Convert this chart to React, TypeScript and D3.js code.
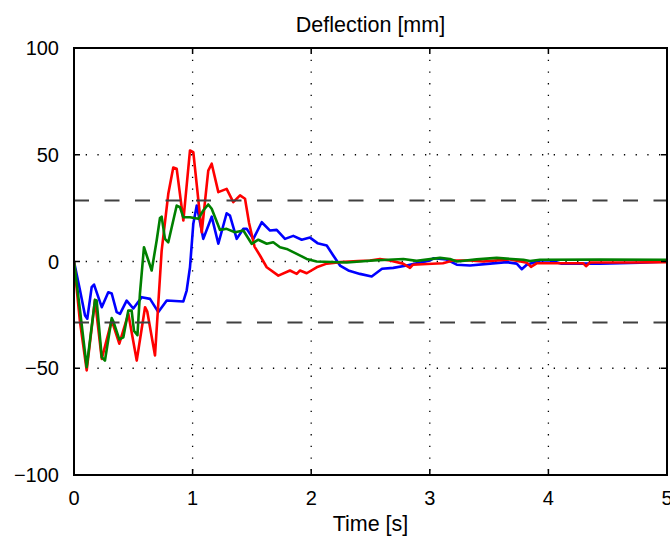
import React from "react";
import * as d3 from "d3";

const title = "Deflection [mm]";
const xLabel = "Time [s]";
const xTicks = [0, 1, 2, 3, 4, 5];
const yTicks = [-100, -50, 0, 50, 100];
const limitLevels = [28.6, -28.6];

const redSeries: [number, number][] = [
  [0, 0], [0.05, -28], [0.107, -51], [0.177, -18], [0.234, -45.6], [0.318, -27.6],
  [0.382, -38.5], [0.458, -24.5], [0.529, -46.4], [0.599, -21.4], [0.618, -23.5],
  [0.683, -44], [0.739, 5], [0.795, 31.7], [0.837, 44], [0.866, 43.4], [0.922, 19.2],
  [0.978, 52], [1.006, 51.2], [1.077, 13.7], [1.132, 42.6], [1.161, 45.8], [1.217, 32.5],
  [1.287, 34], [1.343, 27.8], [1.4, 31], [1.442, 29.4], [1.476, 18], [1.522, 7],
  [1.568, 2.8], [1.625, -2.7], [1.723, -6.6], [1.821, -4.2], [1.878, -5.8], [1.906, -4.2],
  [1.962, -5.5], [2.046, -2.7], [2.131, -1], [2.243, -0.3], [2.395, 0.2], [2.496, 0.5],
  [2.58, 1.2], [2.664, 0.5], [2.774, -1], [2.833, -3], [2.858, -1.5], [2.976, -1.2],
  [3.111, -0.8], [3.196, 0.5], [3.339, 0.5], [3.449, 0], [3.676, 1], [3.82, -0.6],
  [3.853, -2.5], [3.904, -0.8], [4.123, -0.8], [4.292, -0.8], [4.317, -2.2], [4.351, -0.5],
  [4.688, -0.5], [5, -0.3],
];

const blueSeries: [number, number][] = [
  [0, 0], [0.051, -13.6], [0.093, -25.3], [0.112, -26.8], [0.149, -12], [0.169, -10.8],
  [0.234, -21.4], [0.289, -14.4], [0.318, -15], [0.36, -23.7], [0.388, -24.5], [0.444, -18.3],
  [0.5, -22], [0.571, -16.7], [0.641, -17.5], [0.711, -23.7], [0.782, -18.3], [0.922, -18.7],
  [0.95, -13.6], [0.978, -2.7], [1.006, 17.7], [1.035, 26.2], [1.09, 10.6], [1.161, 21],
  [1.217, 8.3], [1.287, 22.6], [1.315, 21.5], [1.372, 10.6], [1.428, 15.3], [1.456, 15.3],
  [1.512, 10.6], [1.583, 18.4], [1.653, 14.5], [1.709, 14.8], [1.779, 10.6], [1.849, 12],
  [1.92, 10.2], [1.99, 11.2], [2.053, 8.6], [2.131, 7.5], [2.186, 2.8], [2.243, -1.9],
  [2.313, -4.2], [2.411, -5.8], [2.51, -7], [2.597, -3.4], [2.692, -3], [2.805, -1.9],
  [2.889, -0.8], [3.002, 0.5], [3.03, 1.5], [3.142, 0.9], [3.227, -1.5], [3.339, -1.9],
  [3.508, -1], [3.648, -0.3], [3.733, -1], [3.775, -3.6], [3.817, -1.5], [3.929, 0.5],
  [4.013, 0.5], [4.112, -1], [4.435, -1], [4.772, -0.6], [5, 0],
];

const greenSeries: [number, number][] = [
  [0, 0], [0.051, -23], [0.107, -49.5], [0.177, -18], [0.191, -18.3], [0.234, -44.8],
  [0.261, -46.4], [0.318, -26.5], [0.331, -28], [0.382, -36.5], [0.416, -35.5], [0.458, -23],
  [0.486, -23], [0.506, -32.5], [0.535, -34.5], [0.556, -15], [0.59, 6.7], [0.655, -4.2],
  [0.697, 9.8], [0.725, 20.4], [0.739, 21], [0.767, 10.6], [0.795, 9], [0.866, 26.2],
  [0.894, 25.4], [0.922, 20.7], [0.978, 20.7], [1.048, 20], [1.09, 23.9], [1.132, 26.7],
  [1.161, 24.7], [1.231, 14.8], [1.287, 15.3], [1.357, 13.7], [1.428, 14.5], [1.498, 8.3],
  [1.554, 10.2], [1.625, 8.3], [1.68, 9], [1.737, 6.7], [1.793, 5.9], [1.878, 3.6],
  [1.962, 1.2], [2.046, 0], [2.3, -0.5], [2.524, 0.5], [2.777, 1.2], [2.889, 0.3],
  [3.086, 1.7], [3.17, 1.2], [3.227, 0], [3.395, 1], [3.564, 1.7], [3.789, 0.8],
  [3.845, 0.2], [3.929, 0.8], [4.435, 0.9], [5, 0.8],
];

const series = [
  { name: "blue", color: "#0000ff", data: blueSeries },
  { name: "red", color: "#ff0000", data: redSeries },
  { name: "green", color: "#008000", data: greenSeries },
];

const W = 670;
const H = 540;
const left = 74;
const right = 667;
const top = 48;
const bottom = 475;
const font = "'Liberation Sans', Arial, Helvetica, sans-serif";
const fs = 20;
const fsLabel = 21.5;

export default function App() {
  const x = d3.scaleLinear().domain([0, 5]).range([left, right]);
  const y = d3.scaleLinear().domain([-100, 100]).range([bottom, top]);
  const line = d3
    .line<[number, number]>()
    .x((d) => x(d[0]))
    .y((d) => y(d[1]))
    .curve(d3.curveLinear);
  const fmt = (v: number) => (v < 0 ? "\u2212" + Math.abs(v) : String(v));
  const tickLen = 6;

  return (
    <svg
      width={W}
      height={H}
      style={{ position: "absolute", left: 0, top: 0, background: "#fff" }}
      fontFamily={font}
    >
      <defs>
        <clipPath id="plotClip">
          <rect x={left} y={top} width={right - left} height={bottom - top} />
        </clipPath>
      </defs>
      <rect x={0} y={0} width={W} height={H} fill="#fff" />
      {xTicks.slice(1, -1).map((t) => (
        <line
          key={"gx" + t}
          x1={x(t)}
          x2={x(t)}
          y1={top}
          y2={bottom}
          stroke="#000"
          strokeWidth={1.3}
          strokeDasharray="1.3 10.4"
        />
      ))}
      {yTicks.slice(1, -1).map((t) => (
        <line
          key={"gy" + t}
          x1={left}
          x2={right}
          y1={y(t)}
          y2={y(t)}
          stroke="#000"
          strokeWidth={1.3}
          strokeDasharray="1.3 10.4"
        />
      ))}
      <g clipPath="url(#plotClip)">
        {series.map((s) => (
          <path
            key={s.name}
            d={line(s.data) || ""}
            fill="none"
            stroke={s.color}
            strokeWidth={2.6}
            strokeLinejoin="round"
            strokeLinecap="round"
          />
        ))}
      </g>
      {limitLevels.map((v) => (
        <line
          key={"lim" + v}
          x1={left}
          x2={right}
          y1={y(v)}
          y2={y(v)}
          stroke="#404040"
          strokeWidth={2}
          strokeDasharray="15 15.5"
        />
      ))}
      {xTicks.map((t) => (
        <g key={"tx" + t}>
          <line x1={x(t)} x2={x(t)} y1={bottom} y2={bottom - tickLen} stroke="#000" strokeWidth={1.5} />
          <line x1={x(t)} x2={x(t)} y1={top} y2={top + tickLen} stroke="#000" strokeWidth={1.5} />
          <text x={x(t)} y={505} textAnchor="middle" fontSize={fs} fill="#000">
            {t}
          </text>
        </g>
      ))}
      {yTicks.map((t) => (
        <g key={"ty" + t}>
          <line x1={left} x2={left + tickLen} y1={y(t)} y2={y(t)} stroke="#000" strokeWidth={1.5} />
          <line x1={right} x2={right - tickLen} y1={y(t)} y2={y(t)} stroke="#000" strokeWidth={1.5} />
          <text x={59} y={y(t) + 7} textAnchor="end" fontSize={fs} fill="#000">
            {fmt(t)}
          </text>
        </g>
      ))}
      <rect
        x={left}
        y={top}
        width={right - left}
        height={bottom - top}
        fill="none"
        stroke="#000"
        strokeWidth={2}
      />
      <text x={(left + right) / 2} y={32} textAnchor="middle" fontSize={fsLabel} fill="#000">
        {title}
      </text>
      <text x={(left + right) / 2} y={531} textAnchor="middle" fontSize={fsLabel} fill="#000">
        {xLabel}
      </text>
    </svg>
  );
}
